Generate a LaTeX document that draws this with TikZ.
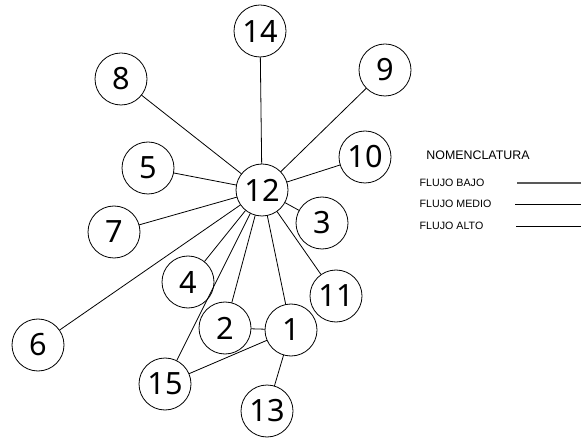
\documentclass[tikz,border=0pt]{standalone}
\usepackage{fontspec}
\setmainfont{Noto Sans}
\newfontfamily\legendfont{Liberation Sans}
\begin{document}
\begin{tikzpicture}[x=0.75pt, y=-0.75pt, line join=round, line cap=round, every node/.style={font=\fontsize{23}{23}\selectfont}, station/.style={circle, draw, line width=0.6pt, minimum size=39pt, inner sep=0pt}, flow/.style={line width=0.6pt}]
			
			\useasboundingbox (0,0) rectangle (581,441);
			
			\node[station] (n12) at (262, 190) {12};
			\node[station] (n14) at (260, 31) {14};
			\node[station] (n8) at (121, 79) {8};
			\node[station] (n9) at (385, 70) {9};
			\node[station] (n5) at (148, 168) {5};
			\node[station] (n10) at (365, 157) {10};
			\node[station] (n7) at (114, 232) {7};
			\node[station] (n3) at (322, 223) {3};
			\node[station] (n4) at (188, 282) {4};
			\node[station] (n11) at (336, 296) {11};
			\node[station] (n6) at (38, 345) {6};
			\node[station] (n2) at (225, 328) {2};
			\node[station] (n1) at (291, 330) {1};
			\node[station] (n15) at (165, 384) {15};
			\node[station] (n13) at (267, 411) {13};
			
			\foreach \n in {14, 8, 9, 5, 10, 7, 3, 4, 6, 11, 2, 1, 15}
				\draw[flow] (n12) -- (n\n);
			
			\draw[flow] (n2) -- (n1);
			\draw[flow] (n1) -- (n15);
			\draw[flow] (n1) -- (n13);
			
			\node[font=\legendfont\fontsize{9.3}{10}\selectfont] (nom) at (478, 155) {NOMENCLATURA};
			
			\node[anchor=west, font=\legendfont\fontsize{8}{8}\selectfont] (bajo) at (415, 183) {FLUJO BAJO};
			\node[anchor=west, font=\legendfont\fontsize{8}{8}\selectfont] (medio) at (415, 204) {FLUJO MEDIO};
			\node[anchor=west, font=\legendfont\fontsize{8}{8}\selectfont] (alto) at (415, 226) {FLUJO ALTO};
			
			\coordinate (bajostart) at (517, 183);
			\coordinate (bajoend) at (581, 183);
			\coordinate (mediostart) at (515, 204);
			\coordinate (medioend) at (581, 204);
			\coordinate (altostart) at (516, 226);
			\coordinate (altoend) at (581, 226);
			
			\draw[line width=1pt, gray!70!black, line cap=butt] (bajostart) -- (bajoend);
			\draw[line width=0.6pt, line cap=butt] (mediostart) -- (medioend);
			\draw[line width=0.6pt, line cap=butt] (altostart) -- (altoend);
			
		\end{tikzpicture}
\end{document}
